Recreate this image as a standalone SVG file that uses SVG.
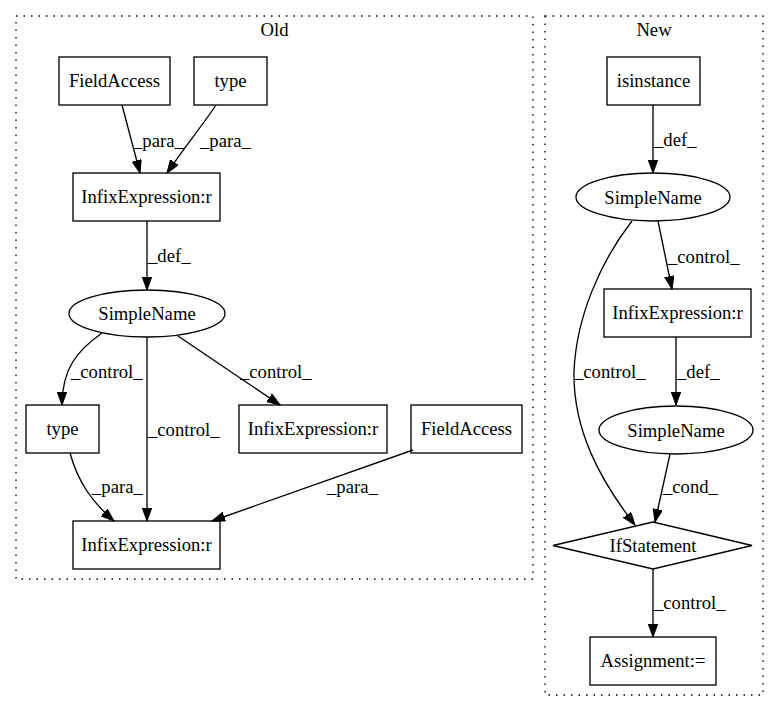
<svg xmlns="http://www.w3.org/2000/svg" width="779" height="712" viewBox="0 0 779 712">
<style>
  text { font-family: "Liberation Serif", "Times New Roman", serif; font-size: 18.67px; fill: #000; }
  .c { text-anchor: middle; }
  .node rect, .node ellipse, .node polygon { fill: none; stroke: #000; stroke-width: 1.33; }
  .cluster { fill: none; stroke: #000; stroke-width: 1.33; stroke-dasharray: 1.5 6; }
  .edge path { fill: none; stroke: #000; stroke-width: 1.33; marker-end: url(#arr); }
</style>
<defs>
  <marker id="arr" markerUnits="userSpaceOnUse" markerWidth="14" markerHeight="10" refX="13" refY="4.7" orient="auto">
    <path d="M0,0 L13,4.7 L0,9.4 z" fill="#000" stroke="#000" stroke-width="1"/>
  </marker>
</defs>
<rect width="779" height="712" fill="#fff"/>

<g id="cluster_old">
  <rect class="cluster" x="16" y="16" width="517" height="563"/>
  <text class="c" x="274.5" y="36">Old</text>
</g>
<g id="cluster_new">
  <rect class="cluster" x="545" y="16" width="218" height="679"/>
  <text class="c" x="654" y="36">New</text>
</g>

<g id="edges">
  <g class="edge"><path d="M122,105 L140,173"/><text x="133" y="147">_para_</text></g>
  <g class="edge"><path d="M216,105 C202,126 184,148 167,173"/><text x="200" y="147">_para_</text></g>
  <g class="edge"><path d="M147,221 L147,290"/><text x="148" y="262">_def_</text></g>
  <g class="edge"><path d="M102,333 C78,350 62,368 62,405"/><text x="71" y="378">_control_</text></g>
  <g class="edge"><path d="M147,337 L147,521"/><text x="148" y="436">_control_</text></g>
  <g class="edge"><path d="M178,336 L280,405"/><text x="240" y="378">_control_</text></g>
  <g class="edge"><path d="M70,453 C78,482 92,502 114,521"/><text x="92" y="493">_para_</text></g>
  <g class="edge"><path d="M413,450 L212,521"/><text x="327" y="493">_para_</text></g>

  <g class="edge"><path d="M653,105 L653,173"/><text x="654" y="146">_def_</text></g>
  <g class="edge"><path d="M658,221 L672,289"/><text x="668" y="263">_control_</text></g>
  <g class="edge"><path d="M632,221 C600,262 576,318 574,372 C573,430 600,480 635,525"/><text x="574" y="378">_control_</text></g>
  <g class="edge"><path d="M676,337 L676,405"/><text x="677" y="378">_def_</text></g>
  <g class="edge"><path d="M670,454 L655,522"/><text x="663" y="493">_cond_</text></g>
  <g class="edge"><path d="M653,569 L653,637"/><text x="654" y="609">_control_</text></g>
</g>

<g id="old_fieldaccess1" class="node"><rect x="59" y="57" width="111" height="48"/><text class="c" x="114.5" y="87">FieldAccess</text></g>
<g id="old_type1" class="node"><rect x="194" y="57" width="73" height="48"/><text class="c" x="230.5" y="87">type</text></g>
<g id="old_infix1" class="node"><rect x="73" y="173" width="147" height="48"/><text class="c" x="146.5" y="203">InfixExpression:r</text></g>
<g id="old_simplename" class="node"><ellipse cx="147" cy="313.5" rx="78" ry="23.5"/><text class="c" x="147" y="320">SimpleName</text></g>
<g id="old_type2" class="node"><rect x="26" y="405" width="73" height="48"/><text class="c" x="62.5" y="435">type</text></g>
<g id="old_infix2" class="node"><rect x="239" y="405" width="148" height="48"/><text class="c" x="313" y="435">InfixExpression:r</text></g>
<g id="old_fieldaccess2" class="node"><rect x="411" y="405" width="111" height="48"/><text class="c" x="466.5" y="435">FieldAccess</text></g>
<g id="old_infix3" class="node"><rect x="73" y="521" width="147" height="48"/><text class="c" x="146.5" y="551">InfixExpression:r</text></g>

<g id="new_isinstance" class="node"><rect x="607" y="57" width="93" height="48"/><text class="c" x="653.5" y="87">isinstance</text></g>
<g id="new_simplename1" class="node"><ellipse cx="653" cy="197" rx="77" ry="24"/><text class="c" x="653" y="203.5">SimpleName</text></g>
<g id="new_infix" class="node"><rect x="604" y="289" width="147" height="48"/><text class="c" x="677.5" y="319">InfixExpression:r</text></g>
<g id="new_simplename2" class="node"><ellipse cx="676" cy="430" rx="77" ry="24"/><text class="c" x="676" y="436.5">SimpleName</text></g>
<g id="new_ifstatement" class="node"><polygon points="553,545.5 653,522 752,545.5 653,569"/><text class="c" x="653" y="552">IfStatement</text></g>
<g id="new_assignment" class="node"><rect x="590" y="637" width="126" height="48"/><text class="c" x="653" y="667">Assignment:=</text></g>
</svg>
